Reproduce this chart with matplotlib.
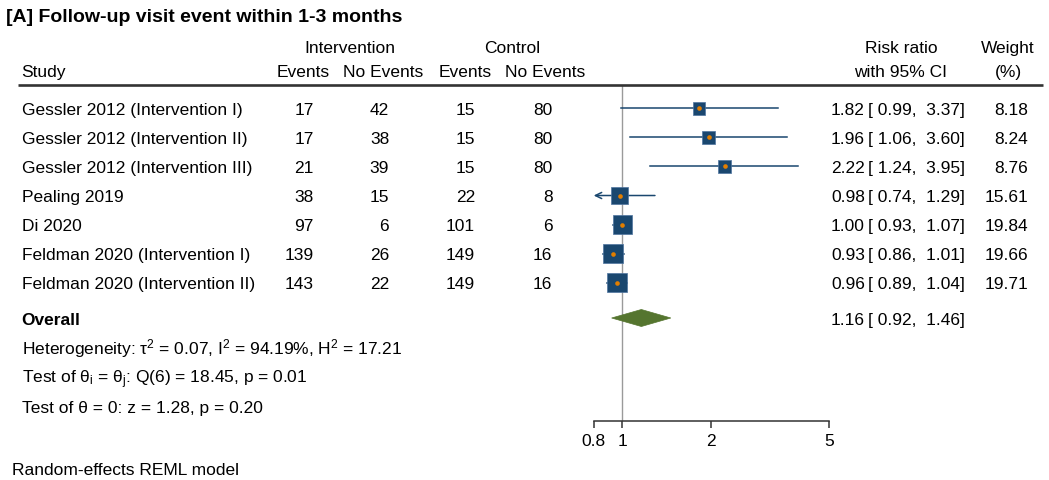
import numpy as np
import matplotlib.pyplot as plt
import matplotlib.transforms as mtransforms
from matplotlib.patches import Polygon
from matplotlib.lines import Line2D
from matplotlib.ticker import NullLocator

plt.rcParams['font.family'] = ['Liberation Sans', 'DejaVu Sans']
plt.rcParams['mathtext.fontset'] = 'custom'
plt.rcParams['mathtext.rm'] = 'Liberation Sans'
plt.rcParams['mathtext.it'] = 'Liberation Sans:italic'

# Datos
studies = ['Gessler 2012 (Intervention I)', 'Gessler 2012 (Intervention II)',
           'Gessler 2012 (Intervention III)', 'Pealing 2019', 'Di 2020',
           'Feldman 2020 (Intervention I)', 'Feldman 2020 (Intervention II)']
int_events = [17, 17, 21, 38, 97, 139, 143]
int_no_events = [42, 38, 39, 15, 6, 26, 22]
ctl_events = [15, 15, 15, 22, 101, 149, 149]
ctl_no_events = [80, 80, 80, 8, 6, 16, 16]
rr = [1.82, 1.96, 2.22, 0.98, 1.00, 0.93, 0.96]
rr_lo = [0.99, 1.06, 1.24, 0.74, 0.93, 0.86, 0.89]
rr_hi = [3.37, 3.60, 3.95, 1.29, 1.07, 1.01, 1.04]
weight = [8.18, 8.24, 8.76, 15.61, 19.84, 19.66, 19.71]
overall_rr, overall_lo, overall_hi = 1.16, 0.92, 1.46
x_ticks = [0.8, 1, 2, 5]
x_ticklabels = ['0.8', '1', '2', '5']

NAVY = '#1a476f'
ORANGE = '#e37e00'
GREEN = '#55752f'

W, H = 1049, 480
fig = plt.figure(figsize=(W / 100, H / 100), dpi=100)
px = mtransforms.Affine2D().scale(1 / W, -1 / H).translate(0, 1) + fig.transFigure

ROW0, ROWH = 108.3, 29.07
TOP_LINE = 85
AXIS_Y = 420.7
X0, X1 = 593.7, 828.7
FS = 12.5


def row_px(r):
    return ROW0 + ROWH * r


def put(x, y, s, ha='left', size=FS, **kw):
    # y = centro de las mayúsculas; se pasa a línea base
    base = size / 72 * 100 * 0.716 / 2
    fig.text(x, y + base, s, ha=ha, va='baseline', transform=px, color='black',
             fontsize=size, **kw)


# Título
put(6, 15.3, '[A] Follow-up visit event within 1-3 months', size=14, fontweight='bold')

# Cabeceras
put(350, 47, 'Intervention', ha='center')
put(512, 47, 'Control', ha='center')
put(21.5, 71, 'Study')
put(302.8, 71, 'Events', ha='center')
put(383.3, 71, 'No Events', ha='center')
put(464.7, 71, 'Events', ha='center')
put(545, 71, 'No Events', ha='center')
put(901, 47, 'Risk ratio', ha='center')
put(901, 71, 'with 95% CI', ha='center')
put(1008, 47, 'Weight', ha='center')
put(1008, 71, '(%)', ha='center')

fig.add_artist(Line2D([18, 1043], [TOP_LINE, TOP_LINE], transform=px,
                      color='#333333', lw=1.9, solid_capstyle='butt'))

# Filas de estudios
for i, name in enumerate(studies):
    y = row_px(i)
    put(21.5, y, name)
    put(313.5, y, str(int_events[i]), ha='right')
    put(389.2, y, str(int_no_events[i]), ha='right')
    put(475, y, str(ctl_events[i]), ha='right')
    put(552.5, y, str(ctl_no_events[i]), ha='right')
    put(865, y, f'{rr[i]:.2f}', ha='right')
    put(868, y, f'[ {rr_lo[i]:.2f},  {rr_hi[i]:.2f}]')
    put(1028, y, f'{weight[i]:.2f}', ha='right')

overall_row = (318 - ROW0) / ROWH
put(21.5, 318.3, 'Overall', fontweight='bold')
put(865, 318.3, f'{overall_rr:.2f}', ha='right')
put(868, 318.3, f'[ {overall_lo:.2f},  {overall_hi:.2f}]')
put(22, 348.3, r'Heterogeneity: τ$\mathregular{^2}$ = 0.07, I$\mathregular{^2}$ = 94.19%, H$\mathregular{^2}$ = 17.21')
put(22, 377.3, r'Test of θ$\mathregular{_i}$ = θ$\mathregular{_j}$: Q(6) = 18.45, p = 0.01')
put(22, 406.6, 'Test of θ = 0: z = 1.28, p = 0.20')
put(11.5, 468.3, 'Random-effects REML model')

# Panel del forest plot
ax = fig.add_axes([X0 / W, 1 - AXIS_Y / H, (X1 - X0) / W, (AXIS_Y - TOP_LINE) / H])
ax.set_xscale('log')
ax.set_xlim(0.8, 5)
ax.set_ylim((AXIS_Y - ROW0) / ROWH, (TOP_LINE - ROW0) / ROWH)
ax.patch.set_alpha(0)
for side in ['top', 'left', 'right']:
    ax.spines[side].set_visible(False)
ax.spines['bottom'].set_color('#333333')
ax.spines['bottom'].set_linewidth(1.1)
ax.set_yticks([])
ax.set_xticks(x_ticks)
ax.set_xticklabels(x_ticklabels)
ax.xaxis.set_minor_locator(NullLocator())
ax.tick_params(axis='x', direction='out', length=5, width=1.1, color='#333333',
               labelsize=12.5, pad=4.5)

ax.axvline(1, color='#9a9a9a', lw=1, zorder=1)

rows = np.arange(len(studies))
xmin = ax.get_xlim()[0]
for i in rows:
    if rr_lo[i] < xmin:
        ax.annotate('', xy=(xmin, i), xytext=(rr_hi[i], i),
                    arrowprops=dict(arrowstyle='->,head_length=0.45,head_width=0.22',
                                    color=NAVY, lw=1.1, shrinkA=0, shrinkB=0),
                    annotation_clip=False, zorder=2)
    else:
        ax.plot([rr_lo[i], rr_hi[i]], [i, i], color=NAVY, lw=1.1, zorder=2)

ax.scatter(rr, rows, s=np.array(weight) * 9.8, marker='s', color=NAVY,
           edgecolors='#4f75a0', linewidths=0.5, zorder=3)
ax.scatter(rr, rows, s=11, marker='o', color=ORANGE, linewidths=0, zorder=4)

dh = 8.5 / ROWH
ax.add_patch(Polygon([(overall_lo, overall_row), (overall_rr, overall_row - dh),
                      (overall_hi, overall_row), (overall_rr, overall_row + dh)],
                     closed=True, facecolor=GREEN, edgecolor=GREEN, lw=0.5, zorder=3))

fig.savefig('out.png', dpi=100)
